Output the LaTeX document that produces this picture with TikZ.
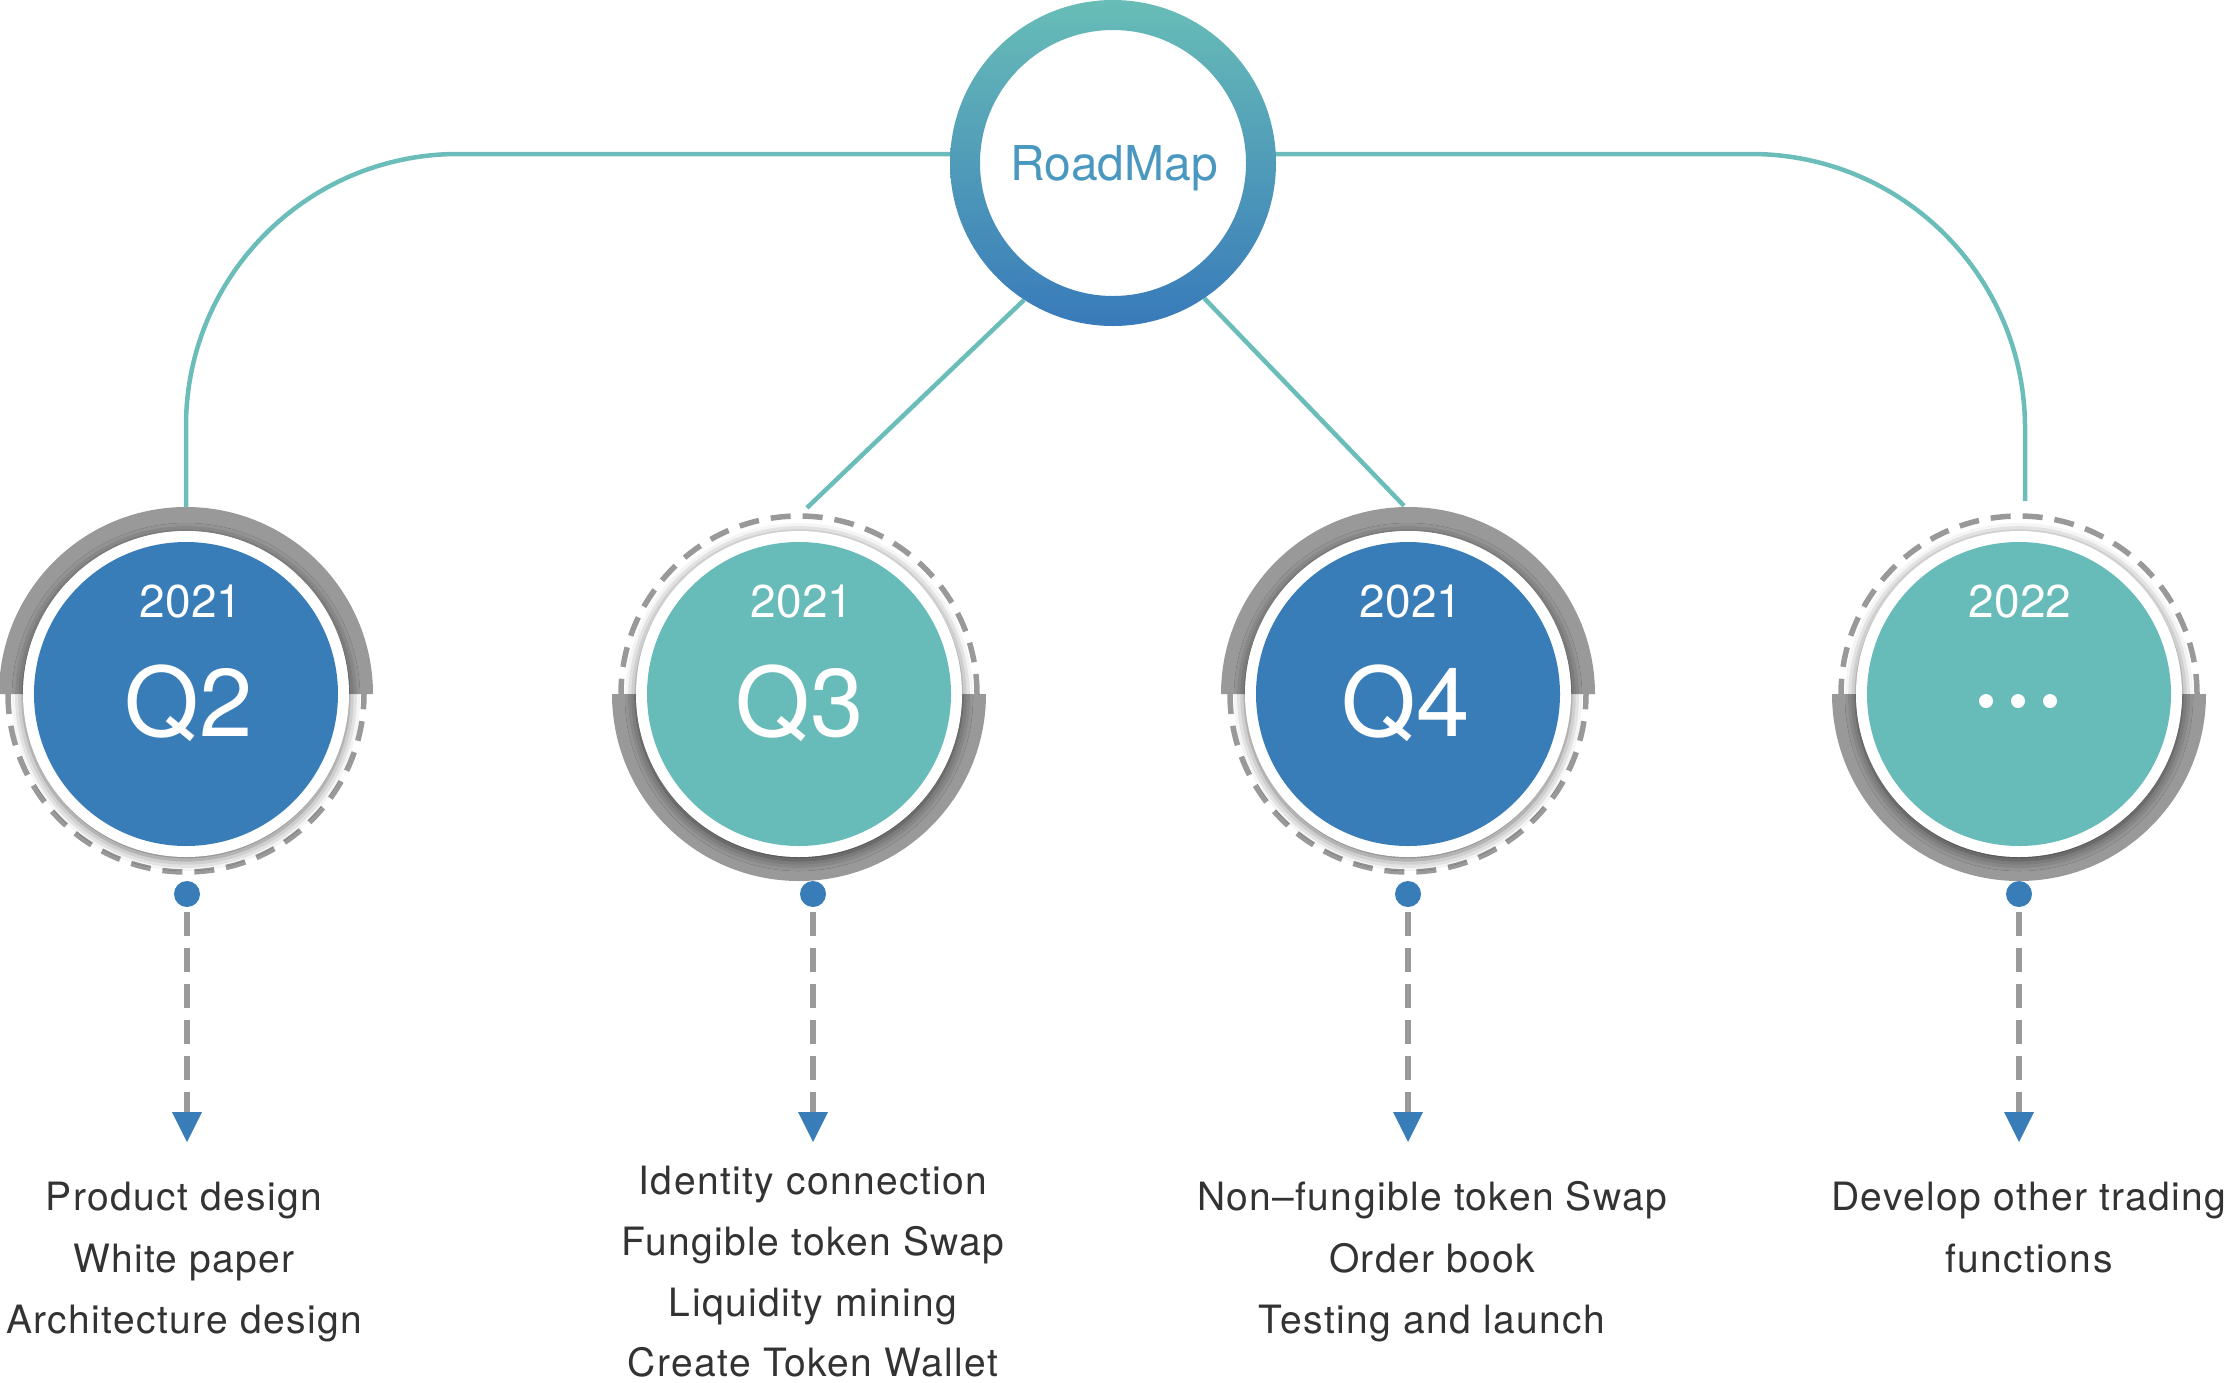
\documentclass[tikz,border=0pt]{standalone}
\usepackage{fontspec}
\setmainfont{TeX Gyre Heros}
\newfontfamily\lsfont[LetterSpace=3.5]{TeX Gyre Heros}
\usetikzlibrary{shadows.blur,arrows.meta,calc}
\definecolor{qblue}{RGB}{56,125,184}
\definecolor{qteal}{RGB}{103,187,184}
\definecolor{lineteal}{RGB}{107,189,185}
\definecolor{ringgray}{RGB}{153,153,153}
\definecolor{txtgray}{RGB}{51,51,51}
\definecolor{rmtop}{RGB}{104,189,183}
\definecolor{rmbot}{RGB}{56,122,186}
\definecolor{rmtext}{RGB}{74,152,192}
\tikzset{
  conn/.style={draw=lineteal, line width=4.5pt},
  anchorcircle/.style={circle, minimum size=374pt, inner sep=0pt},
  dashring/.style={draw=ringgray, line width=5.5pt, dash pattern=on 20pt off 12pt},
  whitedisk/.style={circle, fill=white, minimum size=326pt, inner sep=0pt,
    blur shadow={shadow xshift=0pt, shadow yshift=-3pt, shadow blur radius=11pt, shadow opacity=60}},
  qdisk/.style={circle, minimum size=304pt, inner sep=0pt},
  yeartxt/.style={text=white, anchor=base, font=\fontsize{46}{46}\selectfont},
  qtxt/.style={text=white, anchor=base, font=\fontsize{96}{96}\selectfont},
  dotnode/.style={circle, fill=qblue, minimum size=26pt, inner sep=0pt},
  drop/.style={draw=ringgray, line width=6pt, dash pattern=on 24pt off 12pt, shorten <=5pt,
    -{Triangle[width=30pt,length=30pt,line width=0pt,fill=qblue,color=qblue]}},
  itemtxt/.style={text=txtgray, anchor=base, inner sep=0pt, font=\lsfont\fontsize{39}{39}\selectfont},
  wdot/.style={circle, fill=white, minimum size=14pt, inner sep=0pt},
}
\begin{document}
\begin{tikzpicture}[x=1pt,y=-1pt]
\useasboundingbox (0,0) rectangle (2230,1382);

% anchor nodes (invisible)
\node[circle, minimum size=326pt, inner sep=0pt] (rm) at (1113,163) {};
\node[anchorcircle] (q2) at (186,694) {};
\node[anchorcircle] (q3) at (799,694) {};
\node[anchorcircle] (q4) at (1408,694) {};
\node[anchorcircle] (q5) at (2019,694) {};
\coordinate (q5top) at (2025,501);

% connectors
\draw[conn, rounded corners=272pt] ($(rm.center)+(0,-9)$) -- (186,154) -- (q2.north);
\draw[conn, rounded corners=274pt] ($(rm.center)+(0,-9)$) -- (2025,154) -- (q5top);
\draw[conn] (rm.237) -- ($(q3.north)+(8,1)$);
\draw[conn] (rm.304) -- ($(q4.north)+(-4,-1)$);

% RoadMap circle
\fill[white] (rm.center) circle[radius=160pt];
\shade[top color=rmtop, bottom color=rmbot, even odd rule]
  (rm.center) circle[radius=163pt] (rm.center) circle[radius=133pt];
\node[text=rmtext, anchor=base, font=\fontsize{48}{48}\selectfont] (rmlabel) at (1114,180) {RoadMap};

% gray half rings (top for Q2, Q4; bottom for Q3, Q5)
\fill[ringgray] ($(q2.center)+(187,0)$) arc[start angle=0,end angle=180,radius=187pt]
  -- ++(24,0) arc[start angle=180,end angle=0,radius=163pt] -- cycle;
\fill[ringgray] ($(q4.center)+(187,0)$) arc[start angle=0,end angle=180,radius=187pt]
  -- ++(24,0) arc[start angle=180,end angle=0,radius=163pt] -- cycle;
\fill[ringgray] ($(q3.center)+(-187,0)$) arc[start angle=180,end angle=360,radius=187pt]
  -- ++(-24,0) arc[start angle=0,end angle=-180,radius=163pt] -- cycle;
\fill[ringgray] ($(q5.center)+(-187,0)$) arc[start angle=180,end angle=360,radius=187pt]
  -- ++(-24,0) arc[start angle=0,end angle=-180,radius=163pt] -- cycle;

% dashed half rings
\draw[dashring] ($(q2.center)+(-178,0)$) arc[start angle=180,end angle=360,radius=178pt];
\draw[dashring] ($(q4.center)+(-178,0)$) arc[start angle=180,end angle=360,radius=178pt];
\draw[dashring] ($(q3.center)+(178,0)$) arc[start angle=0,end angle=180,radius=178pt];
\draw[dashring] ($(q5.center)+(178,0)$) arc[start angle=0,end angle=180,radius=178pt];

% white and coloured disks
\node[whitedisk] (q2w) at (q2.center) {};
\node[whitedisk] (q3w) at (q3.center) {};
\node[whitedisk] (q4w) at (q4.center) {};
\node[whitedisk] (q5w) at (q5.center) {};
\node[qdisk, fill=qblue] (q2c) at (q2.center) {};
\node[qdisk, fill=qteal] (q3c) at (q3.center) {};
\node[qdisk, fill=qblue] (q4c) at (q4.center) {};
\node[qdisk, fill=qteal] (q5c) at (q5.center) {};

% circle texts
\node[yeartxt] (y2) at (191,617) {2021};
\node[yeartxt] (y3) at (802,617) {2021};
\node[yeartxt] (y4) at (1411,617) {2021};
\node[yeartxt] (y5) at (2020,617) {2022};
\node[qtxt] (t2) at (189,736) {Q2};
\node[qtxt] (t3) at (800,736) {Q3};
\node[qtxt] (t4) at (1406,736) {Q4};
\node[wdot] (d1) at (1986,701) {};
\node[wdot] (d2) at (2018,701) {};
\node[wdot] (d3) at (2050,701) {};

% dots and dashed arrows
\node[dotnode] (p2) at (187,894) {};
\node[dotnode] (p3) at (813,894) {};
\node[dotnode] (p4) at (1408,894) {};
\node[dotnode] (p5) at (2019,894) {};
\coordinate (a2) at (187,1142);
\coordinate (a3) at (813,1142);
\coordinate (a4) at (1408,1142);
\coordinate (a5) at (2019,1142);
\draw[drop] (p2.south) -- (a2);
\draw[drop] (p3.south) -- (a3);
\draw[drop] (p4.south) -- (a4);
\draw[drop] (p5.south) -- (a5);

% item texts
\node[itemtxt] (i21) at (184,1210) {Product design};
\node[itemtxt] (i22) at (184,1272) {White paper};
\node[itemtxt] (i23) at (184,1333) {Architecture design};

\node[itemtxt] (i31) at (813,1194) {Identity connection};
\node[itemtxt] (i32) at (813,1255) {Fungible token Swap};
\node[itemtxt] (i33) at (813,1316) {Liquidity mining};
\node[itemtxt] (i34) at (813,1376) {Create Token Wallet};

\node[itemtxt] (i41) at (1432,1210) {Non–fungible token Swap};
\node[itemtxt] (i42) at (1432,1272) {Order book};
\node[itemtxt] (i43) at (1432,1333) {Testing and launch};

\node[itemtxt] (i51) at (2029,1210) {Develop other trading};
\node[itemtxt] (i52) at (2029,1272) {functions};
\end{tikzpicture}
\end{document}
